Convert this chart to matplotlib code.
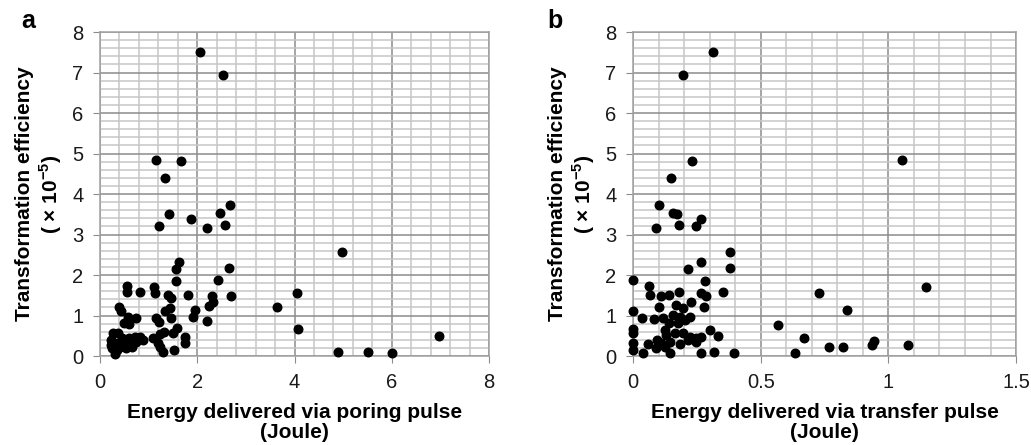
import matplotlib
matplotlib.use('Agg')
import matplotlib.pyplot as plt
from matplotlib.ticker import MultipleLocator

plt.rcParams['font.family'] = ['Liberation Sans', 'DejaVu Sans']
plt.rcParams['mathtext.fontset'] = 'custom'
plt.rcParams['mathtext.bf'] = 'Liberation Sans:bold'
plt.rcParams['mathtext.rm'] = 'Liberation Sans:bold'

# panel a: energy via poring pulse (J) vs transformation efficiency (x1e-5)
poring_x = [2.06, 2.53, 1.15, 1.67, 1.34, 2.67, 2.47, 1.42, 1.87, 2.57, 1.22, 2.21,
            4.98, 1.62, 1.56, 2.65, 2.43, 1.57, 0.56, 0.55, 0.82, 1.12, 1.14, 1.40,
            1.46, 1.80, 2.31, 2.69, 4.06, 2.33, 2.24, 3.65, 0.40, 0.44, 1.44, 1.34,
            1.95, 1.91, 2.21, 1.16, 1.21, 1.46, 0.58, 0.73, 0.49, 0.60, 4.08, 6.97,
            1.58, 1.51, 1.75, 1.74, 1.32, 1.23, 1.10, 1.19, 1.23, 1.30, 1.53, 4.90,
            5.51, 6.01, 0.26, 0.38, 0.23, 0.31, 0.25, 0.31, 0.41, 0.53, 0.66, 0.72,
            0.82, 0.88, 0.75, 0.65, 0.45, 0.22, 0.34, 0.49, 0.60]
poring_y = [7.50, 6.95, 4.85, 4.81, 4.39, 3.74, 3.54, 3.51, 3.38, 3.24, 3.20, 3.16,
            2.56, 2.31, 2.14, 2.18, 1.88, 1.85, 1.73, 1.57, 1.57, 1.71, 1.56, 1.51,
            1.44, 1.50, 1.48, 1.48, 1.56, 1.33, 1.24, 1.22, 1.20, 1.12, 1.18, 1.12,
            1.13, 0.97, 0.87, 0.93, 0.83, 0.95, 0.97, 0.95, 0.82, 0.79, 0.66, 0.49,
            0.68, 0.56, 0.46, 0.33, 0.60, 0.54, 0.45, 0.31, 0.21, 0.11, 0.16, 0.10,
            0.09, 0.08, 0.56, 0.58, 0.40, 0.31, 0.19, 0.05, 0.23, 0.19, 0.31, 0.48,
            0.48, 0.40, 0.35, 0.21, 0.44, 0.27, 0.15, 0.33, 0.44]

# panel b: energy via transfer pulse (J) vs transformation efficiency (x1e-5)
transfer_x = [0.313, 0.197, 1.053, 0.229, 0.148, 0.102, 0.158, 0.174, 0.265, 0.088,
              0.179, 0.245, 0.381, 0.265, 0.217, 0.381, 0.0, 0.282, 1.149, 0.063,
              0.065, 0.111, 0.141, 0.180, 0.265, 0.284, 0.353, 0.727, 0.838, 0.226,
              0.279, 0.170, 0.196, 0.102, 0.0, 0.037, 0.082, 0.118, 0.157, 0.183,
              0.222, 0.140, 0.177, 0.203, 0.566, 0.0, 0.0, 0.127, 0.303, 0.333,
              0.131, 0.166, 0.194, 0.222, 0.248, 0.265, 0.671, 0.945, 0.935, 1.078,
              0.768, 0.821, 0.0, 0.0, 0.059, 0.089, 0.092, 0.111, 0.144, 0.124,
              0.183, 0.216, 0.248, 0.039, 0.144, 0.265, 0.316, 0.395, 0.634]
transfer_y = [7.50, 6.95, 4.85, 4.81, 4.39, 3.74, 3.54, 3.51, 3.38, 3.16,
              3.24, 3.20, 2.56, 2.31, 2.14, 2.18, 1.88, 1.85, 1.71, 1.73,
              1.51, 1.48, 1.51, 1.59, 1.56, 1.49, 1.57, 1.56, 1.14, 1.33,
              1.22, 1.26, 1.18, 1.20, 1.12, 0.95, 0.91, 0.93, 1.01, 0.97,
              0.97, 0.81, 0.82, 0.89, 0.77, 0.67, 0.58, 0.64, 0.64, 0.50,
              0.52, 0.56, 0.58, 0.48, 0.44, 0.48, 0.45, 0.38, 0.27, 0.27,
              0.23, 0.23, 0.31, 0.16, 0.29, 0.19, 0.40, 0.31, 0.35, 0.23,
              0.29, 0.40, 0.35, 0.08, 0.07, 0.08, 0.09, 0.08, 0.08]

ylab = 'Transformation efficiency\n( \u00d7 10$^{\\mathrm{-5}}$)'

fig = plt.figure(figsize=(10.31, 4.45), dpi=100)
ax1 = fig.add_axes([0.097, 0.2, 0.3773, 0.728])
ax2 = fig.add_axes([0.614, 0.2, 0.3715, 0.728])

panels = [
    (ax1, poring_x, poring_y, 8, 2, 0.4, 'Energy delivered via poring pulse\n(Joule)', 'a', 0.027),
    (ax2, transfer_x, transfer_y, 1.5, 0.5, 0.1, 'Energy delivered via transfer pulse\n(Joule)', 'b', 0.538),
]

for ax, xs, ys, xmax, xmaj, xmin, xlab, tag, tagx in panels:
    ax.set_xlim(0, xmax)
    ax.set_ylim(0, 8)
    ax.xaxis.set_major_locator(MultipleLocator(xmaj))
    ax.xaxis.set_minor_locator(MultipleLocator(xmin))
    ax.yaxis.set_major_locator(MultipleLocator(1))
    ax.yaxis.set_minor_locator(MultipleLocator(0.2))
    ax.grid(which='minor', color='#c6c6c6', linewidth=1.1)
    ax.grid(which='major', color='#8c8c8c', linewidth=1.1)
    ax.set_axisbelow(True)
    for s in ax.spines.values():
        s.set_color('#a0a0a0')
        s.set_linewidth(1.1)
    ax.tick_params(which='major', length=5, color='#8c8c8c', labelsize=14.5,
                   labelcolor='#1a1a1a', pad=7)
    ax.tick_params(which='minor', length=0)
    ax.scatter(xs, ys, s=38, color='black', zorder=3, clip_on=False)
    if xmax == 1.5:
        ax.set_xticks([0, 0.5, 1, 1.5], ['0', '0.5', '1', '1.5'])
    ax.set_xlabel(xlab, fontsize=15, fontweight='bold', labelpad=8, linespacing=1.08)
    ax.set_ylabel(ylab, fontsize=15, fontweight='bold', labelpad=6, linespacing=1.15)
    fig.text(tagx, 0.937, tag, fontsize=18, fontweight='bold', ha='center', va='baseline')

fig.savefig('out.png', dpi=100)
